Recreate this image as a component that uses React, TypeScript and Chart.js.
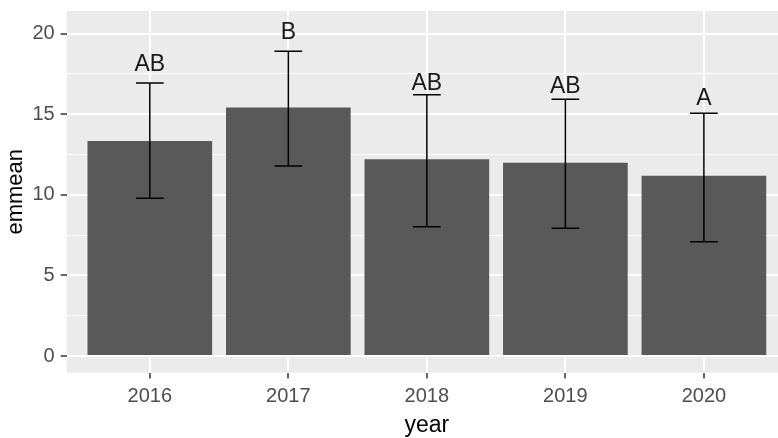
import React, { useEffect, useRef } from 'react';
import { Chart, registerables } from 'chart.js';

Chart.register(...registerables);

// Estimated marginal means by year with 95% confidence limits and group letters
const years = ['2016', '2017', '2018', '2019', '2020'];
const emmean = [13.34, 15.42, 12.2, 11.99, 11.18];
const lowerCL = [9.78, 11.79, 8.02, 7.92, 7.09];
const upperCL = [16.93, 18.9, 16.21, 15.92, 15.05];
const groupLetters = ['AB', 'B', 'AB', 'AB', 'A'];
const letterY = [18.19, 20.19, 16.98, 16.81, 16.09];

const yMajorTicks = [0, 5, 10, 15, 20];
const yMinorTicks = [2.5, 7.5, 12.5, 17.5];

const FONT = '"Liberation Sans", Arial, sans-serif';
const isMajor = (v: number) => yMajorTicks.includes(v);

const panelBackground = {
  id: 'panelBackground',
  beforeDraw(chart: any) {
    const { ctx, chartArea: a, width, height } = chart;
    ctx.save();
    ctx.fillStyle = '#ffffff';
    ctx.fillRect(0, 0, width, height);
    ctx.fillStyle = '#ebebeb';
    ctx.fillRect(a.left, a.top, a.right - a.left, a.bottom - a.top);
    ctx.restore();
  },
};

const errorBarsAndLetters = {
  id: 'errorBarsAndLetters',
  afterDatasetsDraw(chart: any) {
    const { ctx } = chart;
    const xs = chart.scales.x;
    const ys = chart.scales.y;
    const unit = xs.getPixelForValue(2) - xs.getPixelForValue(1);
    const capHalf = unit * 0.1;
    ctx.save();
    ctx.strokeStyle = '#000000';
    ctx.lineWidth = 1.5;
    years.forEach((_, i) => {
      const x = xs.getPixelForValue(i + 1);
      const yLo = ys.getPixelForValue(lowerCL[i]);
      const yHi = ys.getPixelForValue(upperCL[i]);
      ctx.beginPath();
      ctx.moveTo(x, yLo);
      ctx.lineTo(x, yHi);
      ctx.moveTo(x - capHalf, yHi);
      ctx.lineTo(x + capHalf, yHi);
      ctx.moveTo(x - capHalf, yLo);
      ctx.lineTo(x + capHalf, yLo);
      ctx.stroke();
    });
    const size = 23;
    ctx.font = `${size}px ${FONT}`;
    ctx.fillStyle = '#1a1a1a';
    ctx.textAlign = 'center';
    ctx.textBaseline = 'alphabetic';
    groupLetters.forEach((t, i) => {
      const x = xs.getPixelForValue(i + 1);
      const y = ys.getPixelForValue(letterY[i]);
      ctx.fillText(t, x, y + (size * 0.716) / 2);
    });
    ctx.restore();
  },
};

export default function App() {
  const canvasRef = useRef<HTMLCanvasElement | null>(null);

  useEffect(() => {
    if (!canvasRef.current) return;
    const chart = new Chart(canvasRef.current, {
      type: 'bar',
      data: {
        datasets: [
          {
            data: years.map((_, i) => ({ x: i + 1, y: emmean[i] })),
            backgroundColor: '#595959',
            borderWidth: 0,
            barPercentage: 0.9,
            categoryPercentage: 1,
          },
        ],
      },
      options: {
        animation: false,
        responsive: false,
        devicePixelRatio: 1,
        layout: { padding: { top: 11, right: 3, left: 0, bottom: 0 } },
        plugins: { legend: { display: false }, tooltip: { enabled: false } },
        scales: {
          x: {
            type: 'linear',
            min: 0.4,
            max: 5.6,
            offset: false,
            afterBuildTicks: (s: any) => {
              s.ticks = years.map((_, i) => ({ value: i + 1 }));
            },
            afterFit: (s: any) => {
              s.height = 65.4;
              s.paddingLeft = 0;
              s.paddingRight = 0;
            },
            grid: {
              offset: false,
              color: '#ffffff',
              lineWidth: 2,
              tickLength: 6,
              tickColor: '#333333',
              tickWidth: 1.5,
            },
            border: { display: false },
            ticks: {
              callback: (v: any) => years[Math.round(Number(v)) - 1],
              font: { family: FONT, size: 20 },
              color: '#4d4d4d',
              padding: 6,
              maxRotation: 0,
              autoSkip: false,
            },
            title: {
              display: true,
              text: 'year',
              font: { family: FONT, size: 23 },
              color: '#000000',
              padding: { top: 0, bottom: -1 },
            },
          },
          y: {
            min: -1.03,
            max: 21.4,
            afterBuildTicks: (s: any) => {
              s.ticks = [...yMajorTicks, ...yMinorTicks]
                .sort((a, b) => a - b)
                .map((v) => ({ value: v }));
            },
            afterFit: (s: any) => {
              s.width = 66.7;
              s.paddingTop = 0;
              s.paddingBottom = 0;
            },
            grid: {
              color: '#ffffff',
              lineWidth: (c: any) => (isMajor(c.tick?.value) ? 2 : 1),
              tickLength: 6,
              tickColor: (c: any) => (isMajor(c.tick?.value) ? '#333333' : 'rgba(0,0,0,0)'),
              tickWidth: 1.5,
            },
            border: { display: false },
            ticks: {
              callback: (v: any) => (isMajor(Number(v)) ? String(v) : ''),
              font: { family: FONT, size: 20 },
              color: '#4d4d4d',
              padding: 6,
              autoSkip: false,
            },
            title: {
              display: true,
              text: 'emmean',
              font: { family: FONT, size: 22 },
              color: '#000000',
              padding: { top: 3, bottom: 0 },
            },
          },
        },
      },
      plugins: [panelBackground, errorBarsAndLetters],
    } as any);
    return () => chart.destroy();
  }, []);

  return (
    <div
      style={{
        position: 'fixed',
        left: 0,
        top: 0,
        width: 778,
        height: 438,
        overflow: 'hidden',
        background: '#ffffff',
      }}
    >
      <canvas ref={canvasRef} width={790} height={438} style={{ display: 'block', width: 790, height: 438 }} />
    </div>
  );
}
